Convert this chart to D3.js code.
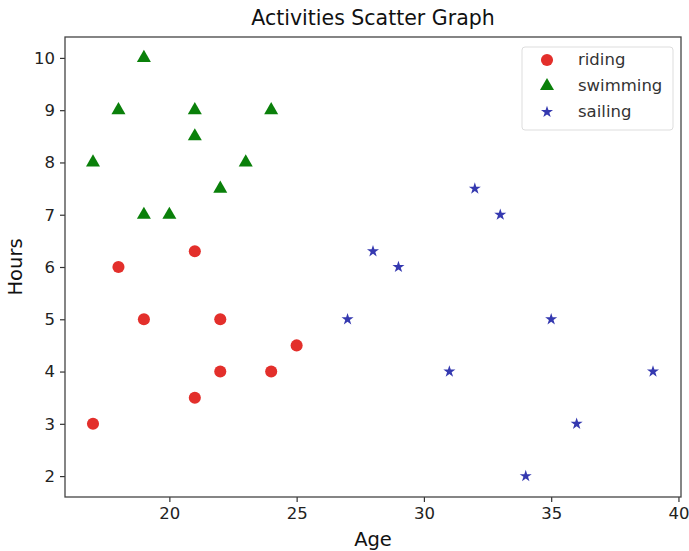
<!DOCTYPE html>
<html><head><meta charset="utf-8">
<script src="https://cdn.jsdelivr.net/npm/d3@7"></script>
<style>body{margin:0;background:#fff}svg{display:block}text{font-family:"DejaVu Sans",sans-serif}</style>
</head><body>
<script>
const ridingAge = [17,18,19,21,21,22,22,24,25];
const ridingHours = [3,6,5,6.3,3.5,5,4,4,4.5];
const swimAge = [17,18,19,19,20,21,21,22,23,24];
const swimHours = [8,9,10,7,7,9,8.5,7.5,8,9];
const sailAge = [27,28,29,31,32,33,34,35,36,39];
const sailHours = [5,6.3,6,4,7.5,7,2,5,3,4];
const xTicks = [20,25,30,35,40];
const yTicks = [2,3,4,5,6,7,8,9,10];
const seriesNames = ["riding","swimming","sailing"];

const W=689,H=551;
const svg=d3.select("body").append("svg").attr("width",W).attr("height",H);
const x=d3.scaleLinear().domain([15.9,40.1]).range([65,681]);
const y=d3.scaleLinear().domain([1.6,10.4]).range([497,37]);

const styles=[
 {color:"#e32f2b", sym:d3.symbolCircle, size:115},
 {color:"#0a800a", sym:d3.symbolTriangle, size:85},
 {color:"#3539b0", sym:d3.symbolStar, size:45}
];
const series=[
 ridingAge.map((a,i)=>[a,ridingHours[i]]),
 swimAge.map((a,i)=>[a,swimHours[i]]),
 sailAge.map((a,i)=>[a,sailHours[i]])
];
series.forEach((s,k)=>{
  svg.append("g").selectAll("path").data(s).join("path")
   .attr("transform",d=>`translate(${x(d[0])},${y(d[1])})`)
   .attr("d",d3.symbol().type(styles[k].sym).size(styles[k].size))
   .attr("fill",styles[k].color);
});

const xa=svg.append("g").attr("transform","translate(0,497)")
  .call(d3.axisBottom(x).tickValues(xTicks).tickSize(5).tickPadding(5));
const ya=svg.append("g").attr("transform","translate(65,0)")
  .call(d3.axisLeft(y).tickValues(yTicks).tickSize(5).tickPadding(5));
[xa,ya].forEach(a=>{a.select(".domain").remove();a.selectAll("text").attr("font-size",16.5).attr("fill","#222").attr("font-family","DejaVu Sans");a.selectAll("line").attr("stroke","#333").attr("stroke-width",1.2);});
svg.append("rect").attr("x",65).attr("y",37).attr("width",616).attr("height",460)
  .attr("fill","none").attr("stroke","#444").attr("stroke-width",1.3);

svg.append("text").attr("x",373).attr("y",25).attr("text-anchor","middle").attr("font-size",20.5).attr("fill","#111").text("Activities Scatter Graph");
svg.append("text").attr("x",373).attr("y",546).attr("text-anchor","middle").attr("font-size",19.5).attr("fill","#111").text("Age");
svg.append("text").attr("transform","translate(22,267) rotate(-90)").attr("text-anchor","middle").attr("font-size",19.5).attr("fill","#111").text("Hours");

const lg=svg.append("g");
lg.append("rect").attr("x",522).attr("y",47).attr("width",151).attr("height",83).attr("rx",3)
  .attr("fill","#fff").attr("stroke","#ddd").attr("stroke-width",1);
seriesNames.forEach((n,k)=>{
  const yy=60+k*26;
  lg.append("path").attr("transform",`translate(547,${yy})`)
    .attr("d",d3.symbol().type(styles[k].sym).size(styles[k].size)).attr("fill",styles[k].color);
  lg.append("text").attr("x",578).attr("y",yy+5).attr("font-size",16.5).attr("fill","#333").text(n);
});
</script>
</body></html>
